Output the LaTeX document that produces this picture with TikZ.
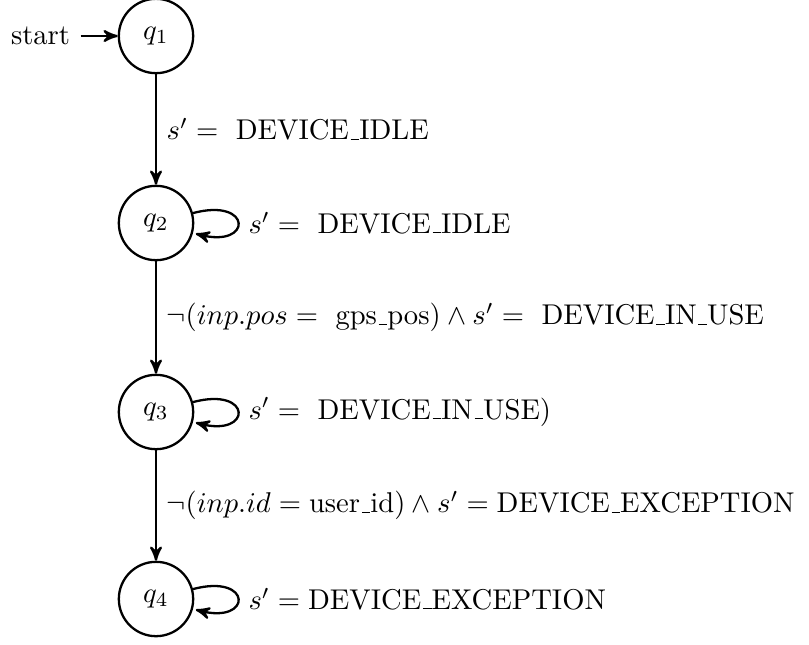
\documentclass[tikz,border=0pt]{standalone}
\usepackage{amsmath}
\usetikzlibrary{automata,positioning,arrows}
\newcommand{\us}{\leavevmode\kern.06em\vbox{\hrule width.3em}}
\begin{document}
\begin{tikzpicture}[x=0.3497pt,y=0.3497pt, thick, >=stealth',
  every state/.style={minimum size=26pt},
  lbl/.style={right}]
\useasboundingbox (0,0) rectangle (809,644);
\node[state,initial] (q1) at (156,608) {$q_1$};
\node[state] (q2) at (156,421) {$q_2$};
\node[state] (q3) at (156,232) {$q_3$};
\node[state] (q4) at (156,45) {$q_4$};
\path[->]
  (q1) edge node[lbl] {$s' = \text{ DEVICE\us IDLE}$} (q2)
  (q2) edge[loop right] node {$s' = \text{ DEVICE\us IDLE}$} ()
  (q2) edge node[lbl] {$\neg(inp.pos = \text{ gps\us pos}) \wedge s' = \text{ DEVICE\us IN\us USE}$} (q3)
  (q3) edge[loop right] node {$s' = \text{ DEVICE\us IN\us USE)}$} ()
  (q3) edge node[lbl] {$\neg(inp.id = \text{user\us id}) \wedge s' = \text{DEVICE\us EXCEPTION}$} (q4)
  (q4) edge[loop right] node {$s' = \text{DEVICE\us EXCEPTION}$} ();
\end{tikzpicture}
\end{document}
